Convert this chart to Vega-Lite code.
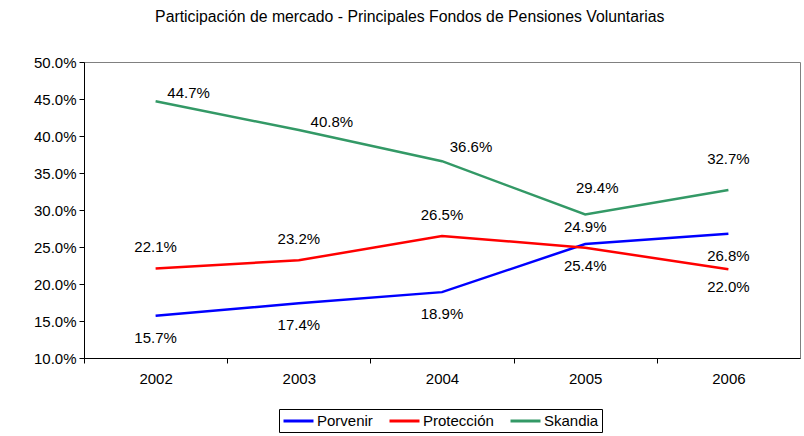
{
  "$schema": "https://vega.github.io/schema/vega-lite/v6.json",
  "autosize": "none",
  "width": 716,
  "height": 296,
  "padding": {"left": 84, "top": 62, "right": 4, "bottom": 78},
  "background": "white",
  "config": {
    "font": "Liberation Sans",
    "view": {"stroke": "#808080", "strokeWidth": 1},
    "axis": {"labelFont": "Liberation Sans", "labelFontSize": 15, "labelColor": "black", "domainColor": "black", "tickColor": "black", "grid": false, "title": null},
    "legend": {"labelFont": "Liberation Sans", "labelFontSize": 15, "labelColor": "black"}
  },
  "title": {
    "text": "Participación de mercado - Principales Fondos de Pensiones Voluntarias",
    "fontSize": 15.8, "fontWeight": "normal", "font": "Liberation Sans", "color": "black",
    "anchor": "middle", "frame": "bounds", "offset": 29, "dx": -7
  },
  "data": {"values": [
    {"year": "2002", "fondo": "Porvenir", "share": 0.157},
    {"year": "2003", "fondo": "Porvenir", "share": 0.174},
    {"year": "2004", "fondo": "Porvenir", "share": 0.189},
    {"year": "2005", "fondo": "Porvenir", "share": 0.254},
    {"year": "2006", "fondo": "Porvenir", "share": 0.268},
    {"year": "2002", "fondo": "Protección", "share": 0.221},
    {"year": "2003", "fondo": "Protección", "share": 0.232},
    {"year": "2004", "fondo": "Protección", "share": 0.265},
    {"year": "2005", "fondo": "Protección", "share": 0.249},
    {"year": "2006", "fondo": "Protección", "share": 0.220},
    {"year": "2002", "fondo": "Skandia", "share": 0.447},
    {"year": "2003", "fondo": "Skandia", "share": 0.408},
    {"year": "2004", "fondo": "Skandia", "share": 0.366},
    {"year": "2005", "fondo": "Skandia", "share": 0.294},
    {"year": "2006", "fondo": "Skandia", "share": 0.327}
  ]},
  "encoding": {
    "x": {"field": "year", "type": "ordinal",
      "scale": {"type": "band", "paddingInner": 0, "paddingOuter": 0},
      "axis": {"labelAngle": 0, "tickOffset": -71.6, "labelOffset": 71.6, "tickSize": 5, "labelPadding": 8, "domainWidth": 1}},
    "y": {"field": "share", "type": "quantitative",
      "scale": {"domain": [0.1, 0.5], "nice": false, "zero": false},
      "axis": {"format": ".1%", "values": [0.1, 0.15, 0.2, 0.25, 0.3, 0.35, 0.4, 0.45, 0.5], "tickSize": 5, "labelPadding": 3}}
  },
  "layer": [
    {
      "mark": {"type": "line", "strokeWidth": 2.5},
      "encoding": {
        "color": {"field": "fondo", "type": "nominal",
          "scale": {"domain": ["Porvenir", "Protección", "Skandia"], "range": ["#0000FF", "#FF0000", "#339966"]},
          "legend": {"title": null, "orient": "none", "legendX": 195, "legendY": 347, "direction": "horizontal", "strokeColor": "black", "padding": 3, "symbolType": "M-1,0H3", "symbolSize": 225, "symbolStrokeWidth": 3, "columnPadding": 10, "labelOffset": 17}}
      }
    },
    {
      "transform": [{"filter": "datum.fondo === 'Porvenir'"}],
      "mark": {"type": "text", "fontSize": 15, "dy": 22, "color": "black"},
      "encoding": {"text": {"field": "share", "format": ".1%"}}
    },
    {
      "transform": [{"filter": "datum.fondo === 'Protección' && datum.year !== '2006'"}],
      "mark": {"type": "text", "fontSize": 15, "dy": -21, "color": "black"},
      "encoding": {"text": {"field": "share", "format": ".1%"}}
    },
    {
      "transform": [{"filter": "datum.fondo === 'Protección' && datum.year === '2006'"}],
      "mark": {"type": "text", "fontSize": 15, "dy": 18, "color": "black"},
      "encoding": {"text": {"field": "share", "format": ".1%"}}
    },
    {
      "transform": [{"filter": "datum.fondo === 'Skandia' && (datum.year === '2002' || datum.year === '2003')"}],
      "mark": {"type": "text", "fontSize": 15, "dx": 33, "dy": -8, "color": "black"},
      "encoding": {"text": {"field": "share", "format": ".1%"}}
    },
    {
      "transform": [{"filter": "datum.fondo === 'Skandia' && datum.year === '2004'"}],
      "mark": {"type": "text", "fontSize": 15, "dx": 29, "dy": -14, "color": "black"},
      "encoding": {"text": {"field": "share", "format": ".1%"}}
    },
    {
      "transform": [{"filter": "datum.fondo === 'Skandia' && datum.year === '2005'"}],
      "mark": {"type": "text", "fontSize": 15, "dx": 12, "dy": -26, "color": "black"},
      "encoding": {"text": {"field": "share", "format": ".1%"}}
    },
    {
      "transform": [{"filter": "datum.fondo === 'Skandia' && datum.year === '2006'"}],
      "mark": {"type": "text", "fontSize": 15, "dx": 0, "dy": -31, "color": "black"},
      "encoding": {"text": {"field": "share", "format": ".1%"}}
    }
  ]
}
